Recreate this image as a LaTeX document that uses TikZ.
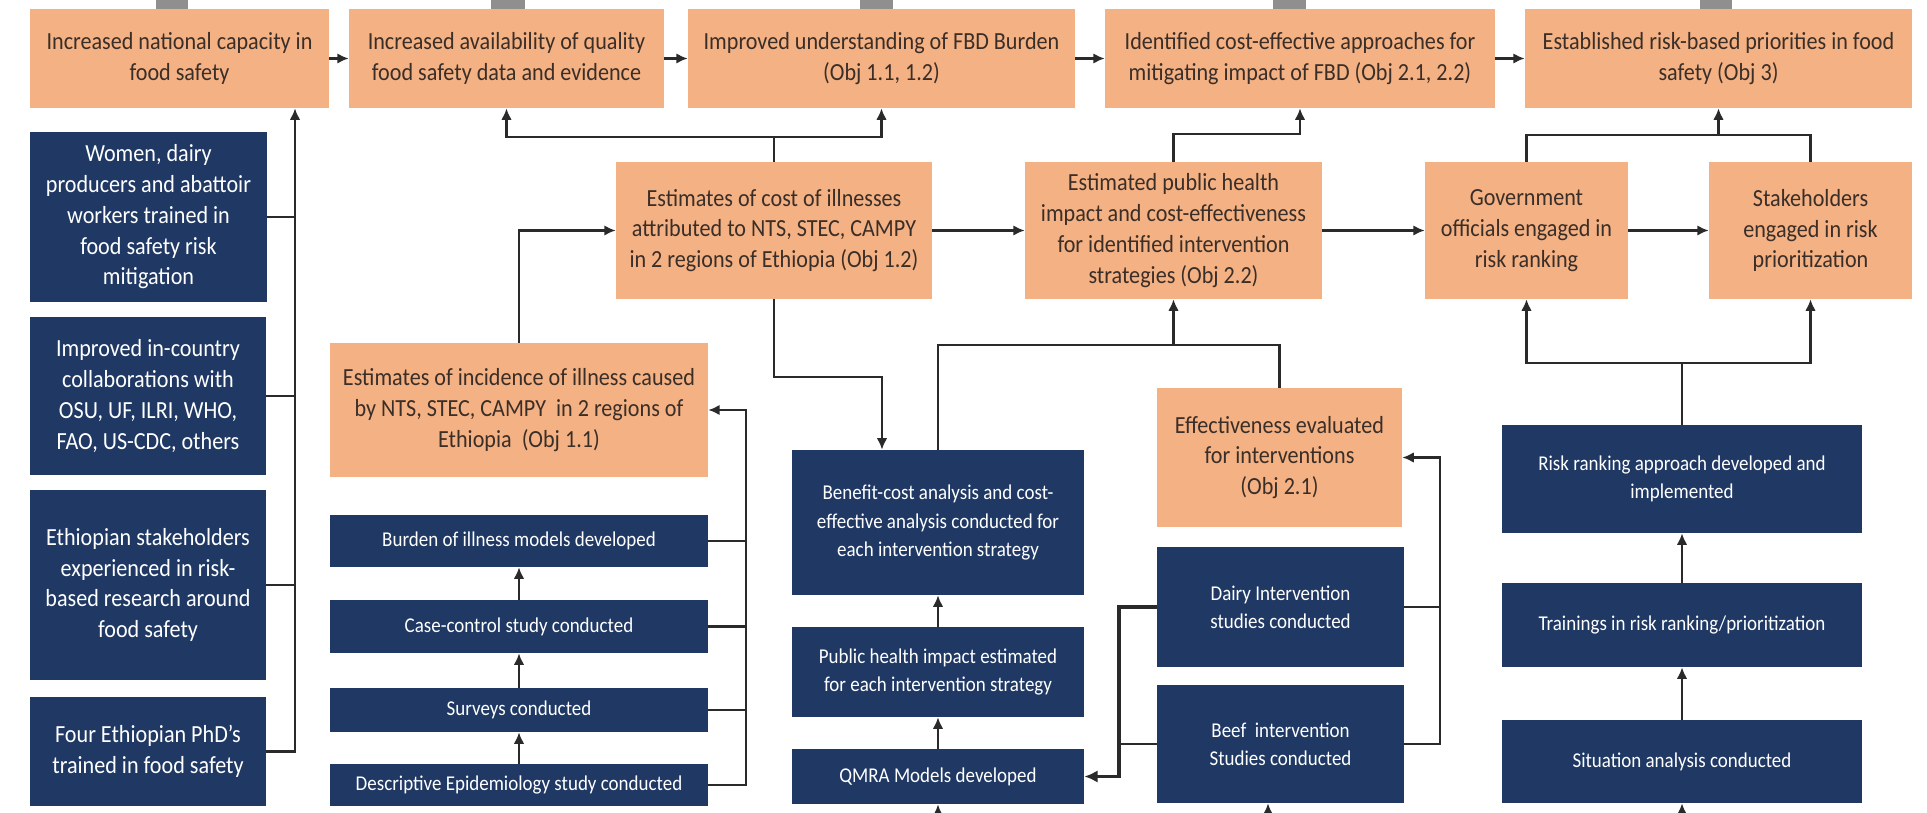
\documentclass[tikz,border=0pt]{standalone}
\usepackage{fontspec}
\setmainfont{Carlito}[FakeStretch=0.9]
\usetikzlibrary{arrows.meta,calc}
\definecolor{boxorange}{HTML}{F4B183}
\definecolor{boxnavy}{HTML}{1F3864}
\definecolor{txtdark}{HTML}{3A2E28}
\definecolor{linegray}{HTML}{2A2A2A}
\definecolor{stubgray}{HTML}{8F8F8F}

\begin{document}
\begin{tikzpicture}[x=0.02cm,y=-0.02cm,
		obox/.style={fill=boxorange,text=txtdark,align=center,inner sep=2pt,font=\fontsize{14}{17.5}\selectfont},
		nbox/.style={fill=boxnavy,text=white,align=center,inner sep=2pt,font=\fontsize{14}{17.5}\selectfont},
		nsmall/.style={nbox,font=\fontsize{12}{16}\selectfont},
		arr/.style={draw=linegray,line width=1.2pt,-{Latex[length=6.5pt,width=6pt]}},
		link/.style={draw=linegray,line width=1.2pt}]
		
		\useasboundingbox (0,0) rectangle (1927,813);
		
		% Gray stubs coming from above
		\fill[stubgray] (156,0) rectangle (188,9);
		\fill[stubgray] (491,0) rectangle (525,9);
		\fill[stubgray] (860,0) rectangle (893,9);
		\fill[stubgray] (1273,0) rectangle (1306,9);
		\fill[stubgray] (1700,0) rectangle (1732,9);
		
		% Top row of outcomes
		\node[obox, minimum width=5.98cm, minimum height=1.98cm] (cap) at (179.5,58.5) {Increased national capacity in\\food safety};
		\node[obox, minimum width=6.30cm, minimum height=1.98cm] (avail) at (506.5,58.5) {Increased availability of quality\\food safety data and evidence};
		\node[obox, minimum width=7.74cm, minimum height=1.98cm] (fbd) at (881.5,58.5) {Improved understanding of FBD Burden\\(Obj 1.1, 1.2)};
		\node[obox, minimum width=7.80cm, minimum height=1.98cm] (costeff) at (1300,58.5) {Identified cost-effective approaches for\\mitigating impact of FBD (Obj 2.1, 2.2)};
		\node[obox, minimum width=7.74cm, minimum height=1.98cm] (prio) at (1718.5,58.5) {Established risk-based priorities in food\\safety (Obj 3)};
		
		% Middle row of outcomes
		\node[obox, minimum width=6.32cm, minimum height=2.74cm] (cost) at (774,230.5) {Estimates of cost of illnesses\\attributed to NTS, STEC, CAMPY\\in 2 regions of Ethiopia (Obj 1.2)};
		\node[obox, minimum width=5.94cm, minimum height=2.74cm] (phimp) at (1173.5,230.5) {Estimated public health\\impact and cost-effectiveness\\for identified intervention\\strategies (Obj 2.2)};
		\node[obox, minimum width=4.06cm, minimum height=2.74cm] (gov) at (1526.5,230.5) {Government\\officials engaged in\\risk ranking};
		\node[obox, minimum width=4.06cm, minimum height=2.74cm] (stake) at (1810.5,230.5) {Stakeholders\\engaged in risk\\prioritization};
		\node[obox, minimum width=7.56cm, minimum height=2.68cm] (incid) at (519,410) {Estimates of incidence of illness caused\\by NTS, STEC, CAMPY\ \ in 2 regions of\\Ethiopia\ \ (Obj 1.1)};
		\node[obox, minimum width=4.90cm, minimum height=2.78cm] (effev) at (1279.5,457.5) {Effectiveness evaluated\\for interventions\\(Obj 2.1)};
		
		% Left column of capacity outputs
		\node[nbox, minimum width=4.74cm, minimum height=3.40cm] (women) at (148.5,217) {Women, dairy\\producers and abattoir\\workers trained in\\food safety risk\\mitigation};
		\node[nbox, minimum width=4.72cm, minimum height=3.16cm] (collab) at (148,396) {Improved in-country\\collaborations with\\OSU, UF, ILRI, WHO,\\FAO, US-CDC, others};
		\node[nbox, minimum width=4.72cm, minimum height=3.80cm] (stakeeth) at (148,585) {Ethiopian stakeholders\\experienced in risk-\\based research around\\food safety};
		\node[nbox, minimum width=4.72cm, minimum height=2.18cm] (phd) at (148,751.5) {Four Ethiopian PhD’s\\trained in food safety};
		
		% Burden of illness activities
		\node[nsmall, minimum width=7.56cm, minimum height=1.04cm] (burden) at (519,541) {Burden of illness models developed};
		\node[nsmall, minimum width=7.56cm, minimum height=1.06cm] (casectrl) at (519,626.5) {Case-control study conducted};
		\node[nsmall, minimum width=7.56cm, minimum height=0.88cm] (survey) at (519,710) {Surveys conducted};
		\node[nsmall, minimum width=7.56cm, minimum height=0.84cm] (descr) at (519,785) {Descriptive Epidemiology study conducted};
		
		% Intervention activities
		\node[nsmall, minimum width=5.84cm, minimum height=2.90cm] (bca) at (938,522.5) {Benefit-cost analysis and cost-\\effective analysis conducted for\\each intervention strategy};
		\node[nsmall, minimum width=5.84cm, minimum height=1.80cm] (phi) at (938,672) {Public health impact estimated\\for each intervention strategy};
		\node[nsmall, minimum width=5.84cm, minimum height=1.10cm] (qmra) at (938,776.5) {QMRA Models developed};
		\node[nsmall, minimum width=4.94cm, minimum height=2.40cm] (dairy) at (1280.5,607) {Dairy Intervention\\studies conducted};
		\node[nsmall, minimum width=4.94cm, minimum height=2.36cm] (beef) at (1280.5,744) {Beef\ \ intervention\\Studies conducted};
		
		% Risk ranking activities
		\node[nsmall, minimum width=7.20cm, minimum height=2.16cm] (riskapp) at (1682,479) {Risk ranking approach developed and\\implemented};
		\node[nsmall, minimum width=7.20cm, minimum height=1.68cm] (train) at (1682,625) {Trainings in risk ranking/prioritization};
		\node[nsmall, minimum width=7.20cm, minimum height=1.66cm] (situ) at (1682,761.5) {Situation analysis conducted};
		
		% Top row chain
		\draw[arr] (cap.east) -- (avail.west);
		\draw[arr] (avail.east) -- (fbd.west);
		\draw[arr] (fbd.east) -- (costeff.west);
		\draw[arr] (costeff.east) -- (prio.west);
		
		% Left bus into national capacity
		\coordinate (lbus) at (295,0);
		\draw[arr] (phd.east) -| (lbus |- cap.south);
		\draw[link] (women.east) -- (women.east -| lbus);
		\draw[link] (collab.east) -- (collab.east -| lbus);
		\draw[link] (stakeeth.east) -- (stakeeth.east -| lbus);
		
		% Cost of illness up to data and FBD burden
		\coordinate (jcost) at (774,137);
		\draw[link] (cost.north) -- (jcost);
		\draw[arr] (jcost) -| (avail.south);
		\draw[arr] (jcost) -| (fbd.south);
		
		% Public health impact up to cost-effective approaches
		\draw[arr] (phimp.north) -- ++(0,-28) -| (costeff.south);
		
		% Engagement up to priorities
		\coordinate (jprio) at (1718.5,135);
		\draw[link] (gov.north) |- (jprio) -| (stake.north);
		\draw[arr] (jprio) -- (prio.south);
		
		% Middle row chain
		\draw[arr] (cost.east) -- (phimp.west);
		\draw[arr] (phimp.east) -- (gov.west);
		\draw[arr] (gov.east) -- (stake.west);
		
		% Incidence to cost, cost down to benefit-cost
		\draw[arr] (incid.north) |- (cost.west);
		\draw[arr] (cost.south) -- ++(0,78) -| ($(bca.north)+(-56,0)$);
		
		% Benefit-cost and effectiveness up to public health impact
		\coordinate (jph) at (1173.5,345);
		\draw[link] (bca.north) |- (jph) -| (effev.north);
		\draw[arr] (jph) -- (phimp.south);
		
		% Risk ranking up to engagement
		\coordinate (jgov) at (1682,363);
		\draw[link] (riskapp.north) -- (jgov);
		\draw[arr] (jgov) -| (gov.south);
		\draw[arr] (jgov) -| (stake.south);
		
		% Stacked activities
		\draw[arr] (train.north) -- (riskapp.south);
		\draw[arr] (situ.north) -- (train.south);
		\draw[arr] (phi.north) -- (bca.south);
		\draw[arr] (qmra.north) -- (phi.south);
		\draw[arr] (casectrl.north) -- (burden.south);
		\draw[arr] (survey.north) -- (casectrl.south);
		\draw[arr] (descr.north) -- (survey.south);
		
		% Burden activities into incidence
		\coordinate (rbus) at (746,0);
		\draw[arr] (descr.east) -| (rbus |- incid.east) -- (incid.east);
		\draw[link] (burden.east) -- (burden.east -| rbus);
		\draw[link] (casectrl.east) -- (casectrl.east -| rbus);
		\draw[link] (survey.east) -- (survey.east -| rbus);
		
		% Intervention studies into effectiveness
		\coordinate (ebus) at (1440,0);
		\draw[arr] (beef.east) -| (ebus |- effev.east) -- (effev.east);
		\draw[link] (dairy.east) -- (dairy.east -| ebus);
		
		% Intervention studies into QMRA
		\coordinate (qbus) at (1119,0);
		\draw[arr, line width=1.8pt, -{Latex[length=7.5pt,width=7pt]}] (dairy.west) -| (qbus |- qmra.east) -- (qmra.east);
		\draw[link] (beef.west) -- (beef.west -| qbus);
		
		% Arrows coming from below
		\coordinate (qin) at (938,813);
		\coordinate (bin) at (1268,813);
		\coordinate (sin) at (1682,813);
		\draw[arr] (qin) -- (qmra.south);
		\draw[arr] (bin) -- (bin |- beef.south);
		\draw[arr] (sin) -- (situ.south);
		
\end{tikzpicture}
\end{document}
